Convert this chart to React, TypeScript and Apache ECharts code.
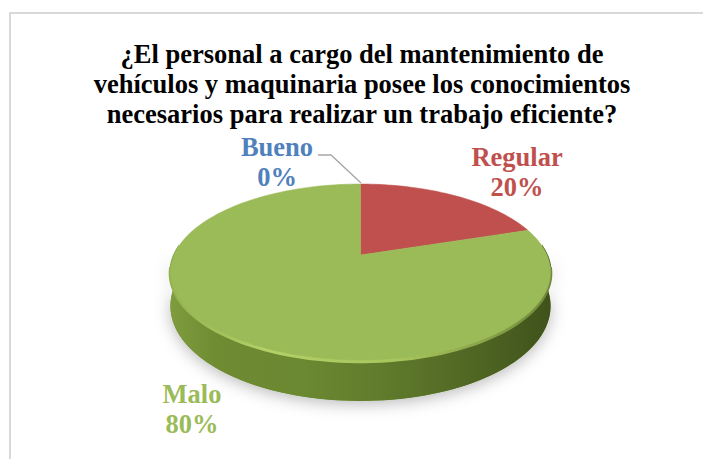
import React, { useEffect, useRef } from "react";
import * as echarts from "echarts";

const titleText = "¿El personal a cargo del mantenimiento de\nvehículos y maquinaria posee los conocimientos\nnecesarios para realizar un trabajo eficiente?";
const categories = ["Bueno", "Regular", "Malo"];
const percents = [0, 20, 80];
const sliceColors = ["#4f81bd", "#c0504d", "#9bbb59"];
const labelPositions = [
  [277, 162],
  [517, 172],
  [192, 409],
];

const SERIF = "'Liberation Serif', serif";
const APEX_X = 360.5;
const APEX_Y = 255;
const REACH_X = 186.5;
const REACH_Y = 84.7;
const TILT = 0.193;
const WALL = 41;

function project(turn: number, dy = 0, shrink = 1): number[] {
  const a = turn * Math.PI * 2;
  const u = Math.sin(a);
  const v = Math.cos(a);
  const w = 1 + TILT * v;
  const lift = dy * (1 - 0.42 * ((v + 1) / 2));
  return [APEX_X + ((REACH_X * u) / w) * shrink, APEX_Y - ((REACH_Y * v) / w) * shrink + lift];
}

function arcPoints(from: number, to: number, dy = 0, shrink = 1): number[][] {
  const pts: number[][] = [];
  const n = Math.max(2, Math.ceil((to - from) * 180));
  for (let i = 0; i <= n; i++) pts.push(project(from + ((to - from) * i) / n, dy, shrink));
  return pts;
}

export default function App() {
  const ref = useRef<HTMLDivElement>(null);
  useEffect(() => {
    const chart = echarts.init(ref.current!, null, { renderer: "svg" });
    const total = percents.reduce((s, v) => s + v, 0);
    const wallGradient = new echarts.graphic.LinearGradient(0, 0, 1, 0, [
      { offset: 0, color: "#7f9c3e" },
      { offset: 0.12, color: "#6f8c33" },
      { offset: 0.35, color: "#6b8832" },
      { offset: 0.55, color: "#617c2c" },
      { offset: 0.8, color: "#4f6623" },
      { offset: 1, color: "#3f521b" },
    ]);
    const rimGradient = new echarts.graphic.LinearGradient(0, 0, 1, 0, [
      { offset: 0, color: "#93b24f" },
      { offset: 0.25, color: "#b3d166" },
      { offset: 0.6, color: "#a8c65e" },
      { offset: 1, color: "#71893a" },
    ]);

    chart.setOption({
      animation: false,
      backgroundColor: "#ffffff",
      title: {
        text: titleText,
        left: 357,
        top: 34,
        textAlign: "center",
        textStyle: {
          fontFamily: SERIF,
          fontWeight: "bold",
          fontSize: 26.5,
          lineHeight: 30,
          color: "#000000",
        },
      },
      graphic: [
        { type: "line", shape: { x1: 9, y1: 13, x2: 703, y2: 13 }, style: { stroke: "#d9d9d9", lineWidth: 2 }, z: 0 },
        { type: "line", shape: { x1: 10, y1: 13, x2: 10, y2: 459 }, style: { stroke: "#d9d9d9", lineWidth: 2 }, z: 0 },
        {
          type: "polyline",
          shape: { points: [[318, 155], [331, 155], [361, 183]] },
          style: { stroke: "#a6a6a6", lineWidth: 1.3, fill: "none" },
          z: 5,
        },
      ],
      series: [
        {
          type: "custom",
          coordinateSystem: "none",
          clip: false,
          data: percents.map((v, i) => [i, v]),
          renderItem: (_params: unknown, api: any) => {
            const i = api.value(0) as number;
            const start = percents.slice(0, i).reduce((s, v) => s + v, 0) / total;
            const span = (api.value(1) as number) / total;
            const children: any[] = [];
            if (i === 2) {
              children.push({
                type: "polygon",
                shape: { points: [...arcPoints(0.25, 0.75), ...arcPoints(0.25, 0.75, WALL).reverse()] },
                style: { fill: "#6f8c33", shadowBlur: 16, shadowColor: "rgba(0,0,0,0.28)", shadowOffsetY: 3 },
              });
              children.push({
                type: "polygon",
                shape: { points: [...arcPoints(0.23, 0.77, 0, 1.005), ...arcPoints(0.23, 0.77, WALL).reverse()] },
                style: { fill: wallGradient },
              });
              children.push({
                type: "polyline",
                shape: { points: arcPoints(0.27, 0.73, 1.5) },
                style: { stroke: rimGradient, lineWidth: 3.5, fill: "none" },
              });
            }
            if (span > 0) {
              children.push({
                type: "polygon",
                shape: { points: [[APEX_X, APEX_Y], ...arcPoints(start, start + span)] },
                style: { fill: sliceColors[i], stroke: sliceColors[i], lineWidth: 0.5 },
              });
            }
            const [lx, ly] = labelPositions[i];
            children.push({
              type: "text",
              x: lx,
              y: ly,
              z2: 10,
              style: {
                text: `${categories[i]}\n${percents[i]}%`,
                fill: sliceColors[i],
                font: `bold 26.5px ${SERIF}`,
                lineHeight: 30,
                align: "center",
                verticalAlign: "middle",
              },
            });
            return { type: "group", children };
          },
        },
      ],
    });
    return () => chart.dispose();
  }, []);
  return <div ref={ref} style={{ position: "absolute", left: 0, top: 0, width: 703, height: 459 }} />;
}
